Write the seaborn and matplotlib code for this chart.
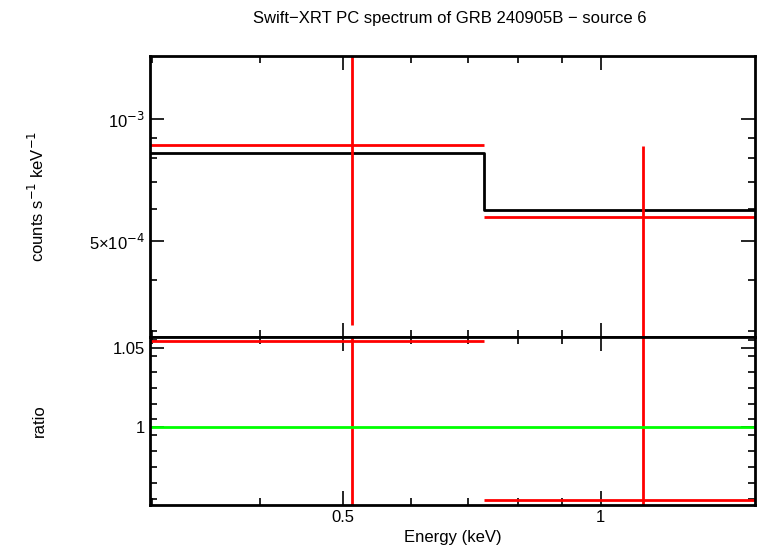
import matplotlib
matplotlib.use("Agg")
import matplotlib.pyplot as plt
import seaborn as sns
import numpy as np
import pandas as pd
from matplotlib.ticker import FixedLocator, NullFormatter, NullLocator

plt.rcParams["font.family"] = "Liberation Sans"

bin_lo = [0.298, 0.730]
bin_hi = [0.730, 1.513]
e_mid = [0.512, 1.119]
rate = [8.62e-4, 5.73e-4]
rate_lo = [3.1e-4, 1.0e-4]
rate_hi = [1.8e-3, 8.57e-4]
model = [8.24e-4, 5.96e-4]
ratio = [1.0544, 0.954]
ratio_lo = [0.90, 0.90]
ratio_hi = [1.10, 1.10]

fig = plt.figure(figsize=(7.58, 5.56), dpi=100)
W, H = 758, 556
ax1 = fig.add_axes([150/W, 1-337/H, 605/W, 281/H])
ax2 = fig.add_axes([150/W, 1-505/H, 605/W, 168/H], sharex=ax1)

df = pd.DataFrame({"lo": bin_lo, "hi": bin_hi, "mid": e_mid, "rate": rate, "model": model, "ratio": ratio})

# model step
mx = [bin_lo[0], bin_hi[0], bin_hi[1]]
my = [model[0], model[1], model[1]]
ax1.step(mx, my, where="post", color="black", lw=2)
for i in range(len(e_mid)):
    ax1.hlines(rate[i], bin_lo[i], bin_hi[i], color="red", lw=2)
    ax1.vlines(e_mid[i], rate_lo[i], rate_hi[i], color="red", lw=2)
    ax2.hlines(ratio[i], bin_lo[i], bin_hi[i], color="red", lw=2)
    ax2.vlines(e_mid[i], ratio_lo[i], ratio_hi[i], color="red", lw=2)
sns.lineplot(x=[0.298, 1.513], y=[1, 1], ax=ax2, color="#00ff00", lw=2)

ax1.set_xscale("log")
ax1.set_yscale("log")
ax1.set_xlim(0.298, 1.513)
ax1.set_ylim(2.9e-4, 1.43e-3)
ax2.set_ylim(0.951, 1.057)

ax1.yaxis.set_major_locator(FixedLocator([5e-4, 1e-3]))
ax1.yaxis.set_minor_locator(FixedLocator([3e-4, 4e-4, 6e-4, 7e-4, 8e-4, 9e-4]))
ax1.set_yticklabels(["5×10$^{-4}$", "10$^{-3}$"])
ax1.yaxis.set_minor_formatter(NullFormatter())
ax2.xaxis.set_major_locator(FixedLocator([0.5, 1]))
ax2.xaxis.set_minor_locator(FixedLocator([0.3, 0.4, 0.6, 0.7, 0.8, 0.9]))
ax2.set_xticklabels(["0.5", "1"])
ax2.xaxis.set_minor_formatter(NullFormatter())
ax2.yaxis.set_major_locator(FixedLocator([1.0, 1.05]))
ax2.set_yticklabels(["1", "1.05"])
ax2.yaxis.set_minor_locator(FixedLocator(np.arange(0.955, 1.057, 0.01)))
plt.setp(ax1.get_xticklabels(), visible=False)

for ax in (ax1, ax2):
    ax.tick_params(which="both", direction="in", top=True, right=True, labelsize=12, width=1.2)
    ax.tick_params(which="major", length=10)
    ax.tick_params(which="minor", length=5)
    for s in ax.spines.values():
        s.set_linewidth(2)

ax1.set_ylabel("counts s$^{-1}$ keV$^{-1}$", fontsize=12)
ax2.set_ylabel("ratio", fontsize=12)
ax2.yaxis.set_label_coords(-0.17, 0.5)
ax1.yaxis.set_label_coords(-0.17, 0.5)
ax2.set_xlabel("Energy (keV)", fontsize=12)
fig.text(450/W, 1-18/H, "Swift\u2212XRT PC spectrum of GRB 240905B \u2212 source 6", ha="center", va="center", fontsize=12)

fig.savefig("out.png", dpi=100)
